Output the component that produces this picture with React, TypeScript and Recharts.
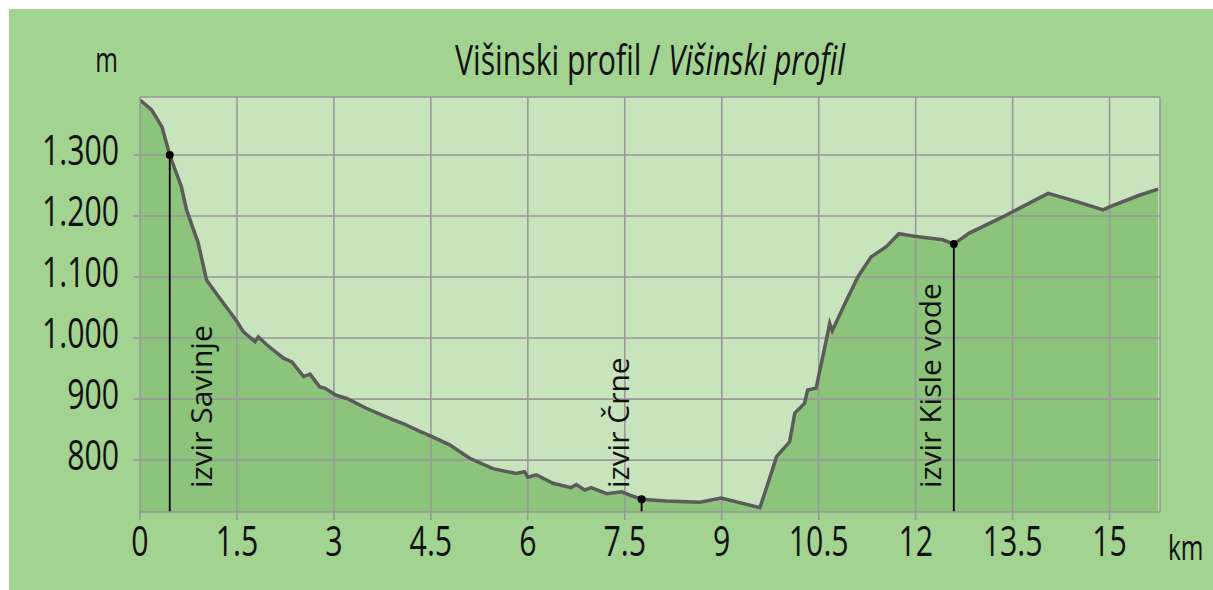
import React from 'react';
import { ComposedChart, Area, Line, XAxis, YAxis, CartesianGrid, ReferenceLine, ReferenceDot } from 'recharts';

// profil: razdalja (km) in nadmorska višina (m), odčitano s slike
const distanceKm = [0, 0.18, 0.34, 0.46, 0.64, 0.72, 0.9, 1.03, 1.16, 1.5, 1.6, 1.78, 1.83, 1.96, 2.22, 2.35, 2.53, 2.63, 2.78, 2.86, 3.02, 3.2, 3.5, 3.92, 4.07, 4.33, 4.51, 4.79, 5.1, 5.46, 5.82, 5.95, 6.0, 6.13, 6.39, 6.67, 6.75, 6.88, 6.98, 7.22, 7.45, 7.6, 7.76, 8.14, 8.66, 8.99, 9.59, 9.85, 10.05, 10.13, 10.28, 10.33, 10.46, 10.64, 10.67, 10.71, 10.93, 11.11, 11.31, 11.55, 11.74, 11.98, 12.42, 12.59, 12.83, 13.3, 13.5, 14.05, 14.48, 14.9, 15.0, 15.46, 15.75];
const elevationM = [1390, 1374, 1346, 1300, 1248, 1210, 1156, 1095, 1076, 1027, 1010, 994, 1002, 989, 967, 961, 937, 941, 920, 918, 907, 901, 885, 866, 860, 847, 839, 825, 803, 786, 778, 781, 772, 776, 762, 755, 760, 751, 755, 745, 748, 742, 736, 733, 731, 738, 722, 806, 830, 877, 893, 915, 918, 1008, 1024, 1012, 1062, 1101, 1133, 1150, 1171, 1167, 1161, 1154, 1172, 1196, 1207, 1237, 1224, 1210, 1215, 1234, 1244];

const xTicks = [0, 1.5, 3, 4.5, 6, 7.5, 9, 10.5, 12, 13.5, 15];
const yTicks = [800, 900, 1000, 1100, 1200, 1300];
const xMax = 15.78;
const yMin = 715;
const yMax = 1395;

const markerNames = ['izvir Savinje', 'izvir Črne', 'izvir Kisle vode'];
const markerKm = [0.46, 7.76, 12.59];
const markerM = [1300, 736, 1154];
const markerSide = ['right', 'left', 'left'];

const data = distanceKm.map((km, i) => ({ km, m: elevationM[i] }));

const PANEL = '#a2d391';
const PLOT = '#c8e4bd';
const FILL = '#8bc47a';
const GRID = '#999999';
const PROFILE = '#5b5b5b';
const FONT = "'Open Sans', 'Noto Sans', sans-serif";

const fmtThousands = (v: number) => {
  if (v < 1000) return String(v);
  const s = String(v);
  return s.slice(0, s.length - 3) + '.' + s.slice(s.length - 3);
};

const YTick = (props: any) => {
  const { x, y, payload } = props;
  return (
    <text
      transform={`translate(${x - 12},${y + 10}) scale(0.72,1)`}
      textAnchor="end"
      fontFamily={FONT}
      fontSize={42}
      fill="#111"
    >
      {fmtThousands(payload.value)}
    </text>
  );
};

const XTick = (props: any) => {
  const { x, y, payload } = props;
  return (
    <text
      transform={`translate(${x},${y + 34}) scale(0.72,1)`}
      textAnchor="middle"
      fontFamily={FONT}
      fontSize={42}
      fill="#111"
    >
      {payload.value}
    </text>
  );
};

const markerLabel = (name: string, side: string) => (props: any) => {
  const vb = props.viewBox || {};
  const bottom = vb.y + vb.height;
  const ax = side === 'right' ? vb.x + 42 : vb.x - 13;
  return (
    <text
      transform={`translate(${ax},${bottom - 24}) rotate(-90)`}
      textAnchor="start"
      fontFamily={FONT}
      fontSize={30}
      fill="#111"
    >
      {name}
    </text>
  );
};

export default function App() {
  return (
    <div style={{ position: 'absolute', left: 9, top: 9, width: 1204, height: 581, background: PANEL }}>
      <ComposedChart width={1204} height={581} data={data} margin={{ top: 88, right: 53, bottom: 48, left: 71 }}>
        <CartesianGrid fill={PLOT} horizontal={false} vertical={false} />
        <XAxis
          dataKey="km"
          type="number"
          domain={[0, xMax]}
          ticks={xTicks}
          allowDataOverflow
          height={30}
          tickSize={8}
          stroke={GRID}
          strokeWidth={1.6}
          tick={<XTick />}
        />
        <YAxis
          type="number"
          domain={[yMin, yMax]}
          ticks={yTicks}
          allowDataOverflow
          width={60}
          tickSize={7}
          stroke={GRID}
          strokeWidth={1.6}
          tick={<YTick />}
        />
        <Area type="linear" dataKey="m" stroke="none" fill={FILL} fillOpacity={1} isAnimationActive={false} />
        {yTicks.concat([yMax]).map((v) => (
          <ReferenceLine key={'h' + v} y={v} stroke={GRID} strokeWidth={1.6} />
        ))}
        {xTicks.slice(1).concat([xMax]).map((v) => (
          <ReferenceLine key={'v' + v} x={v} stroke={GRID} strokeWidth={1.6} />
        ))}
        <Line type="linear" dataKey="m" stroke={PROFILE} strokeWidth={3.5} dot={false} activeDot={false} isAnimationActive={false} />
        {markerNames.map((name, i) => (
          <ReferenceLine
            key={name}
            segment={[{ x: markerKm[i], y: markerM[i] }, { x: markerKm[i], y: yMin }]}
            stroke="#000"
            strokeWidth={1.8}
            label={markerLabel(name, markerSide[i])}
          />
        ))}
        {markerNames.map((name, i) => (
          <ReferenceDot key={'d' + name} x={markerKm[i]} y={markerM[i]} r={4} fill="#000" stroke="none" />
        ))}
      </ComposedChart>
      <svg width={1204} height={581} style={{ position: 'absolute', left: 0, top: 0, pointerEvents: 'none' }}>
        <text transform="translate(641,66) scale(0.72,1)" textAnchor="middle" fontFamily={FONT} fontSize={42} fill="#111">
          <tspan>Višinski profil / </tspan>
          <tspan fontStyle="italic">Višinski profil</tspan>
        </text>
        <text transform="translate(109,63) scale(0.72,1)" textAnchor="end" fontFamily={FONT} fontSize={34} fill="#111">
          m
        </text>
        <text transform="translate(1159,551) scale(0.72,1)" textAnchor="start" fontFamily={FONT} fontSize={34} fill="#111">
          km
        </text>
      </svg>
    </div>
  );
}
